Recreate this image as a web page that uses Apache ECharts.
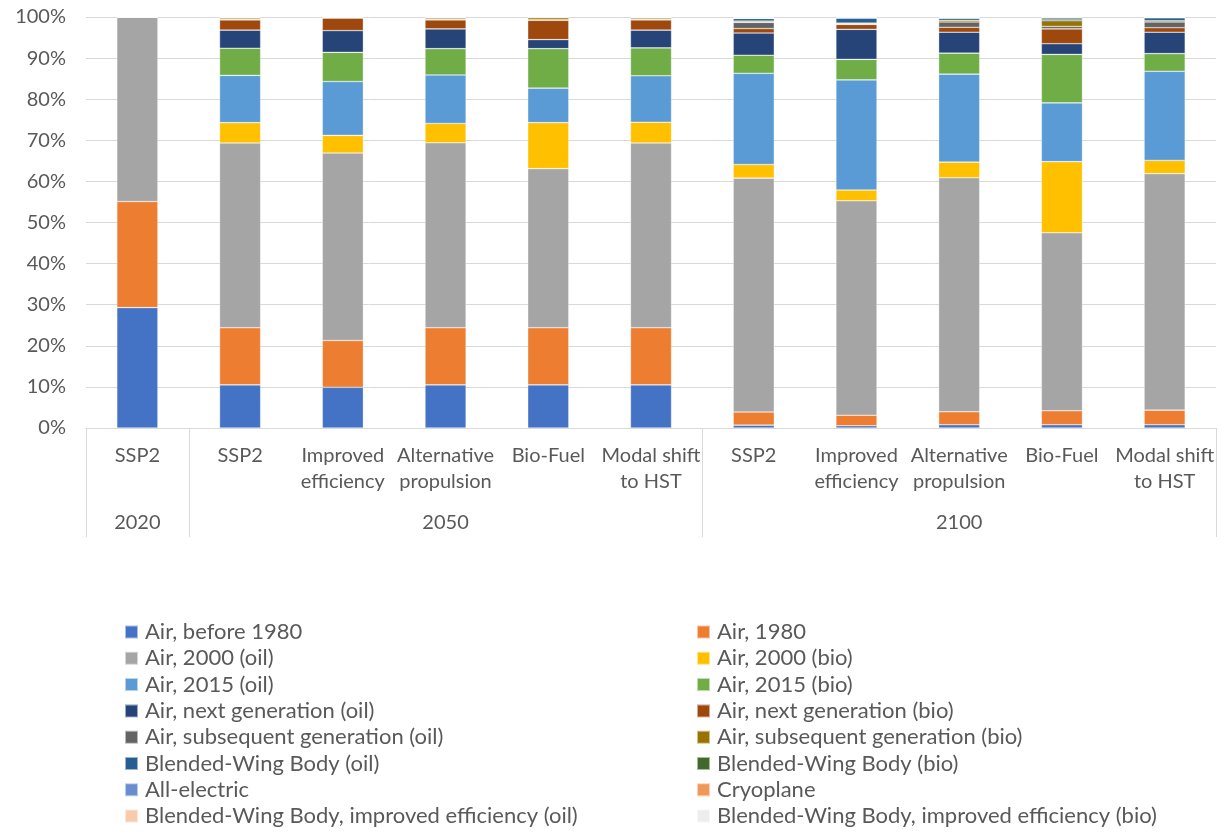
<!DOCTYPE html>
<html>
<head>
<meta charset="utf-8">
<script src="https://cdn.jsdelivr.net/npm/echarts@6/dist/echarts.min.js"></script>
<style>
  html, body { margin: 0; padding: 0; background: #ffffff; }
  #chart { width: 1224px; height: 834px; }
</style>
</head>
<body>
<div id="chart"></div>
<script>
// Scenario columns (lower axis level) and the year groups they belong to
const scenarios = [
  'SSP2',
  'SSP2', 'Improved\nefficiency', 'Alternative\npropulsion', 'Bio-Fuel', 'Modal shift\nto HST',
  'SSP2', 'Improved\nefficiency', 'Alternative\npropulsion', 'Bio-Fuel', 'Modal shift\nto HST'
];
const years = ['2020', '2050', '2100'];
const yearSpan = [1, 5, 5];

const yTicks = [0, 10, 20, 30, 40, 50, 60, 70, 80, 90, 100];

// Share of aviation fleet activity by aircraft type (%)
const airBefore1980   = [29.3, 10.5, 9.9, 10.5, 10.5, 10.5, 0.7, 0.55, 0.8, 0.8, 0.8];
const air1980         = [25.8, 13.9, 11.4, 13.9, 13.9, 13.9, 3.2, 2.55, 3.15, 3.4, 3.55];
const air2000Oil      = [44.9, 44.95, 45.6, 45.0, 38.7, 44.95, 56.9, 52.2, 56.95, 43.3, 57.55];
const air2000Bio      = [0, 4.95, 4.3, 4.7, 11.2, 5.05, 3.3, 2.6, 3.8, 17.3, 3.2];
const air2015Oil      = [0, 11.5, 13.1, 11.8, 8.4, 11.3, 22.2, 26.8, 21.4, 14.3, 21.7];
const air2015Bio      = [0, 6.6, 7.1, 6.4, 9.6, 6.8, 4.4, 5.0, 5.1, 11.8, 4.3];
const airNextOil      = [0, 4.4, 5.3, 4.8, 2.2, 4.3, 5.4, 7.3, 5.1, 2.6, 5.2];
const airNextBio      = [0, 2.5, 3.05, 2.2, 4.7, 2.5, 1.1, 1.2, 1.2, 3.6, 1.1];
const airSubsOil      = [0, 0.2, 0, 0.2, 0.1, 0.2, 1.5, 0.1, 1.3, 0.6, 1.4];
const airSubsBio      = [0, 0.3, 0.15, 0.3, 0.5, 0.3, 0.3, 0.2, 0.4, 1.4, 0.3];
const bwbOil          = [0, 0.1, 0, 0.1, 0.1, 0.1, 0.65, 1.2, 0.5, 0.4, 0.7];
const bwbBio          = [0, 0.1, 0.1, 0.1, 0.3, 0.1, 0.05, 0.2, 0.1, 0.4, 0.05];
const allElectric     = [0, 0, 0, 0, 0, 0, 0.02, 0.03, 0.05, 0.03, 0.05];
const cryoplane       = [0, 0, 0, 0, 0, 0, 0.03, 0.03, 0.05, 0.03, 0.03];
const bwbImprovedOil  = [0, 0, 0, 0, 0, 0, 0.15, 0.02, 0.05, 0.02, 0.04];
const bwbImprovedBio  = [0, 0, 0, 0, 0, 0, 0.1, 0.02, 0.05, 0.02, 0.03];

const seriesNames = [
  'Air, before 1980', 'Air, 1980',
  'Air, 2000 (oil)', 'Air, 2000 (bio)',
  'Air, 2015 (oil)', 'Air, 2015 (bio)',
  'Air, next generation (oil)', 'Air, next generation (bio)',
  'Air, subsequent generation (oil)', 'Air, subsequent generation (bio)',
  'Blended-Wing Body (oil)', 'Blended-Wing Body (bio)',
  'All-electric', 'Cryoplane',
  'Blended-Wing Body, improved efficiency (oil)', 'Blended-Wing Body, improved efficiency (bio)'
];
const seriesValues = [
  airBefore1980, air1980, air2000Oil, air2000Bio, air2015Oil, air2015Bio,
  airNextOil, airNextBio, airSubsOil, airSubsBio, bwbOil, bwbBio,
  allElectric, cryoplane, bwbImprovedOil, bwbImprovedBio
];
const seriesColors = [
  '#4472C4', '#ED7D31', '#A5A5A5', '#FFC000', '#5B9BD5', '#70AD47',
  '#264478', '#9E480E', '#636363', '#997300', '#255E91', '#43682B',
  '#698ED0', '#F1975A', '#F8CBAD', '#EDEDED'
];

// Year labels sit under the middle column of each group
const yearLabels = scenarios.map(() => '');
// Group boundaries: [column index, side] where side -1 = left edge, +1 = right edge
const groupEdges = [];
let start = 0;
years.forEach((y, g) => {
  yearLabels[start + Math.floor(yearSpan[g] / 2)] = y;
  groupEdges.push([start, -1]);
  start += yearSpan[g];
});
groupEdges.push([start - 1, 1]);

const FONT = 'Lato';
const TEXT = '#595959';
const GRID = '#d9d9d9';

const chart = echarts.init(document.getElementById('chart'), null, { renderer: 'canvas' });

const barSeries = seriesNames.map((name, i) => ({
  name: name,
  type: 'bar',
  stack: 'share',
  barWidth: '40%',
  xAxisIndex: 0,
  data: seriesValues[i],
  itemStyle: {
    color: seriesColors[i],
    borderColor: 'rgba(255,255,255,0.55)',
    borderWidth: 0.6
  },
  emphasis: { disabled: true }
}));

const dividerSeries = {
  type: 'custom',
  name: 'dividers',
  xAxisIndex: 0,
  silent: true,
  clip: false,
  z: 1,
  data: groupEdges,
  renderItem: function (params, api) {
    const idx = api.value(0);
    const side = api.value(1);
    const base = api.coord([idx, 0]);
    const band = api.size([1, 0])[0];
    const x = Math.round(base[0] + side * band / 2) + 0.5;
    return {
      type: 'line',
      shape: { x1: x, y1: base[1], x2: x, y2: base[1] + 109 },
      style: { stroke: GRID, lineWidth: 1 }
    };
  }
};

const legendCommon = {
  type: 'plain',
  orient: 'vertical',
  top: 619,
  height: 260,
  padding: 0,
  icon: 'rect',
  itemWidth: 13,
  itemHeight: 13,
  itemGap: 0.3,
  selectedMode: false,
  textStyle: { fontFamily: FONT, fontSize: 22, color: TEXT, lineHeight: 26, padding: [0, 0, 0, 2] }
};

chart.setOption({
  animation: false,
  textStyle: { fontFamily: FONT },
  grid: { left: 86, right: 8, top: 17, bottom: 406, containLabel: false },
  legend: [
    Object.assign({}, legendCommon, { left: 124, data: seriesNames.filter((_, i) => i % 2 === 0) }),
    Object.assign({}, legendCommon, { left: 696, data: seriesNames.filter((_, i) => i % 2 === 1) })
  ],
  xAxis: [
    {
      type: 'category',
      data: scenarios,
      position: 'bottom',
      axisLine: { show: true, lineStyle: { color: GRID, width: 1 } },
      axisTick: { show: false },
      axisLabel: {
        interval: 0,
        margin: 15,
        fontFamily: FONT,
        fontSize: 20,
        lineHeight: 26,
        color: TEXT
      }
    },
    {
      type: 'category',
      data: yearLabels,
      position: 'bottom',
      axisLine: { show: false },
      axisTick: { show: false },
      axisLabel: {
        interval: 0,
        margin: 82,
        fontFamily: FONT,
        fontSize: 20,
        lineHeight: 26,
        color: TEXT
      }
    }
  ],
  yAxis: {
    type: 'value',
    min: yTicks[0],
    max: yTicks[yTicks.length - 1],
    interval: yTicks[1] - yTicks[0],
    axisLine: { show: false },
    axisTick: { show: false },
    splitLine: { lineStyle: { color: GRID, width: 1 } },
    axisLabel: {
      formatter: '{value}%',
      margin: 20,
      fontFamily: FONT,
      fontSize: 20,
      color: TEXT
    }
  },
  series: barSeries.concat([dividerSeries])
});
</script>
</body>
</html>
